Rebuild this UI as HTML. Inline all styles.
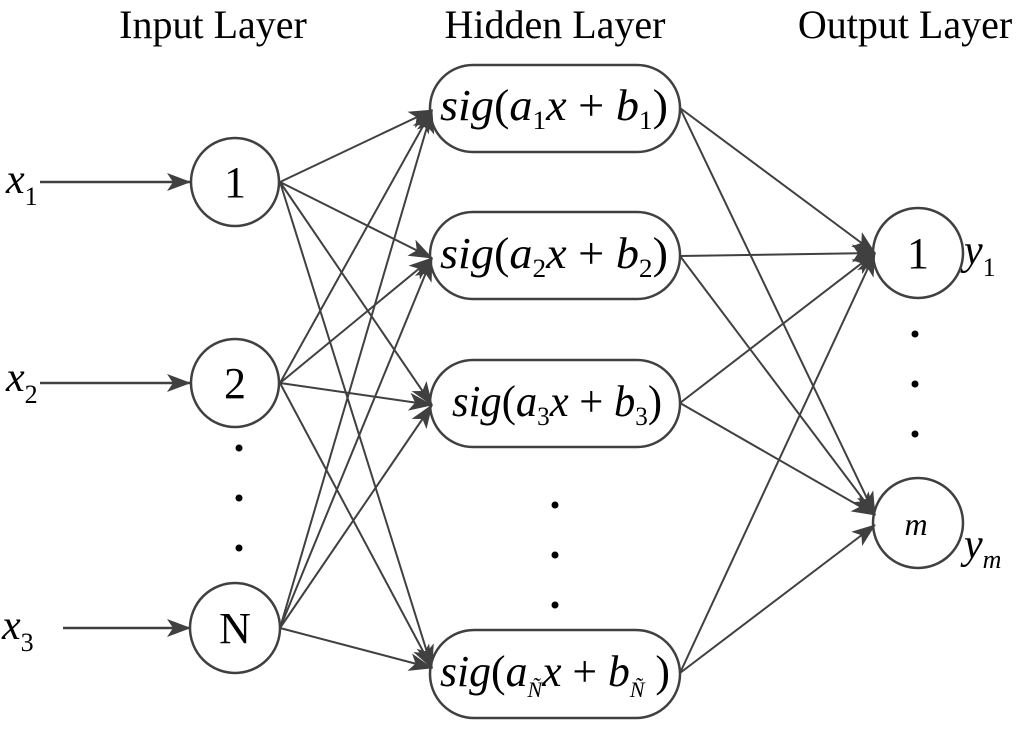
<!DOCTYPE html>
<html><head><style>
body{margin:0;background:#fff}
svg{display:block}
text{font-family:"Liberation Serif",serif;fill:#000}
</style></head><body>
<svg width="1024" height="735" viewBox="0 0 1024 735">
<defs>
<marker id="b" markerWidth="24" markerHeight="18" refX="23" refY="9" orient="auto" markerUnits="userSpaceOnUse" viewBox="0 0 24 18">
<path d="M0,0 L24,9 L0,18 L6,9 z" fill="#404040"/>
</marker>
</defs>
<g font-size="40" text-anchor="middle">
<text x="213" y="38">Input Layer</text>
<text x="555" y="38">Hidden Layer</text>
<text x="905" y="38">Output Layer</text>
</g>
<g stroke="#404040" stroke-width="2.5" fill="none">
<line x1="40" y1="182" x2="190" y2="182" marker-end="url(#b)"/>
<line x1="40" y1="383" x2="190" y2="383" marker-end="url(#b)"/>
<line x1="63" y1="628" x2="190" y2="628" marker-end="url(#b)"/>
<circle cx="235" cy="182" r="44"/>
<circle cx="235" cy="383" r="44"/>
<circle cx="235" cy="628" r="45"/>
<rect x="430" y="65" width="250" height="87" rx="43"/>
<rect x="430" y="212" width="250" height="87" rx="43"/>
<rect x="430" y="360" width="250" height="87" rx="43"/>
<rect x="430" y="630" width="250" height="88" rx="44"/>
<circle cx="918" cy="253" r="45"/>
<circle cx="918" cy="523" r="45"/>
</g>
<g stroke="#404040" stroke-width="2" marker-end="url(#b)">
<line x1="280" y1="182" x2="432" y2="110"/>
<line x1="280" y1="182" x2="432" y2="258"/>
<line x1="280" y1="182" x2="432" y2="405"/>
<line x1="280" y1="182" x2="432" y2="668"/>
<line x1="280" y1="383" x2="432" y2="110"/>
<line x1="280" y1="383" x2="432" y2="258"/>
<line x1="280" y1="383" x2="432" y2="405"/>
<line x1="280" y1="383" x2="432" y2="668"/>
<line x1="280" y1="628" x2="432" y2="110"/>
<line x1="280" y1="628" x2="432" y2="258"/>
<line x1="280" y1="628" x2="432" y2="405"/>
<line x1="280" y1="628" x2="432" y2="668"/>
<line x1="680" y1="108" x2="875" y2="253"/>
<line x1="680" y1="108" x2="875" y2="515"/>
<line x1="680" y1="256" x2="875" y2="253"/>
<line x1="680" y1="256" x2="875" y2="515"/>
<line x1="680" y1="403" x2="875" y2="253"/>
<line x1="680" y1="403" x2="875" y2="515"/>
<line x1="680" y1="673" x2="875" y2="253"/>
<line x1="680" y1="673" x2="875" y2="525"/>
</g>
<g fill="#000">
<circle cx="239" cy="448" r="3.5"/><circle cx="239" cy="498" r="3.5"/><circle cx="239" cy="548" r="3.5"/>
<circle cx="555" cy="505" r="3.5"/><circle cx="555" cy="555" r="3.5"/><circle cx="555" cy="605" r="3.5"/>
<circle cx="915" cy="334" r="3.5"/><circle cx="915" cy="384" r="3.5"/><circle cx="915" cy="434" r="3.5"/>
</g>
<g font-size="44" text-anchor="middle">
<text x="235" y="197">1</text>
<text x="235" y="398">2</text>
<text x="235" y="643">N</text>
<text x="918" y="268">1</text>
<text x="916" y="535" font-style="italic" font-size="32">m</text>
</g>
<g font-size="42" font-style="italic">
<text x="6" y="193">x<tspan font-size="26" font-style="normal" dy="12">1</tspan></text>
<text x="6" y="391">x<tspan font-size="26" font-style="normal" dy="12">2</tspan></text>
<text x="2" y="639">x<tspan font-size="26" font-style="normal" dy="12">3</tspan></text>
<text x="964" y="264">y<tspan font-size="26" font-style="normal" dy="12">1</tspan></text>
<text x="964" y="558">y<tspan font-size="26" dy="10">m</tspan></text>
</g>
<g font-size="44" font-style="italic">
<text x="440" y="120" textLength="228" lengthAdjust="spacingAndGlyphs">sig<tspan font-style="normal">(</tspan>a<tspan font-size="26" font-style="normal" dy="9">1</tspan><tspan dy="-9">x</tspan><tspan font-style="normal"> + </tspan>b<tspan font-size="26" font-style="normal" dy="9">1</tspan><tspan font-style="normal" dy="-9">)</tspan></text>
<text x="440" y="268" textLength="228" lengthAdjust="spacingAndGlyphs">sig<tspan font-style="normal">(</tspan>a<tspan font-size="26" font-style="normal" dy="9">2</tspan><tspan dy="-9">x</tspan><tspan font-style="normal"> + </tspan>b<tspan font-size="26" font-style="normal" dy="9">2</tspan><tspan font-style="normal" dy="-9">)</tspan></text>
<text x="452" y="416" textLength="210" lengthAdjust="spacingAndGlyphs">sig<tspan font-style="normal">(</tspan>a<tspan font-size="26" font-style="normal" dy="9">3</tspan><tspan dy="-9">x</tspan><tspan font-style="normal"> + </tspan>b<tspan font-size="26" font-style="normal" dy="9">3</tspan><tspan font-style="normal" dy="-9">)</tspan></text>
<text x="440" y="686" textLength="230" lengthAdjust="spacingAndGlyphs">sig<tspan font-style="normal">(</tspan>a<tspan font-size="22" dy="11">Ñ</tspan><tspan dy="-11">x</tspan><tspan font-style="normal"> + </tspan>b<tspan font-size="22" dy="11">Ñ</tspan><tspan font-style="normal" dy="-11"> )</tspan></text>
</g>
</svg>
</body></html>
